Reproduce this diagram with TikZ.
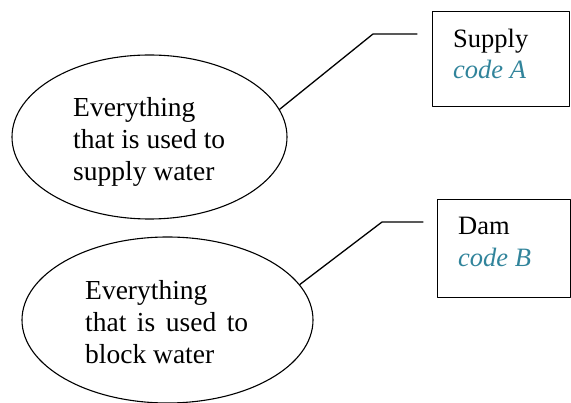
\documentclass[tikz,border=0pt]{standalone}
\usepackage{fontspec}
\setmainfont{Liberation Serif}
\usetikzlibrary{shapes.geometric}
\definecolor{codeteal}{RGB}{49,132,155}
\tikzset{
  bubble/.style={ellipse, draw, line width=1.1pt, inner sep=0pt},
  codebox/.style={rectangle, draw, line width=1.4pt, inner sep=0pt, anchor=north west},
  txt/.style={anchor=base west, inner sep=0pt, font=\fontsize{26.5}{33}\selectfont},
  big/.style={txt, font=\fontsize{27.5}{33}\selectfont},
  code/.style={txt, text=codeteal, font=\fontsize{26.5}{33}\selectfont\itshape},
  link/.style={line width=1.3pt}
}
\begin{document}
\begin{tikzpicture}[x=1pt, y=-1pt, line cap=round, line join=round]
\useasboundingbox (0,0) rectangle (571,403);
% upper bubble and its box
\node[bubble, minimum width=275, minimum height=164] (e1) at (149.5,137) {};
\node[big] (s1) at (73,117) {Everything};
\node[big] (s2) at (73,149) {that is used to};
\node[big] (s3) at (73,181) {supply water};
\node[codebox, minimum width=137, minimum height=95] (b1) at (432,11) {};
\node[txt] (ba) at (453,48) {Supply};
\node[code] (bc) at (453,79) {code A};
\coordinate (k1) at (373,34);
\coordinate (j1) at (417,34);
\draw[link] (e1.12) -- (k1) -- (j1);
% lower bubble and its box
\node[bubble, minimum width=291, minimum height=166] (e2) at (167.5,320) {};
\node[big] (d1) at (85,300) {Everything};
\node[big] (d2) at (85,332) {\makebox[163pt][s]{that is used to}};
\node[big] (d3) at (85,364) {block water};
\node[codebox, minimum width=133, minimum height=98] (b2) at (437,199) {};
\node[txt] (da) at (458,235) {Dam};
\node[code] (dc) at (458,267) {code B};
\coordinate (k2) at (382,222);
\coordinate (j2) at (423,222);
\draw[link] (e2.15) -- (k2) -- (j2);
\end{tikzpicture}
\end{document}
